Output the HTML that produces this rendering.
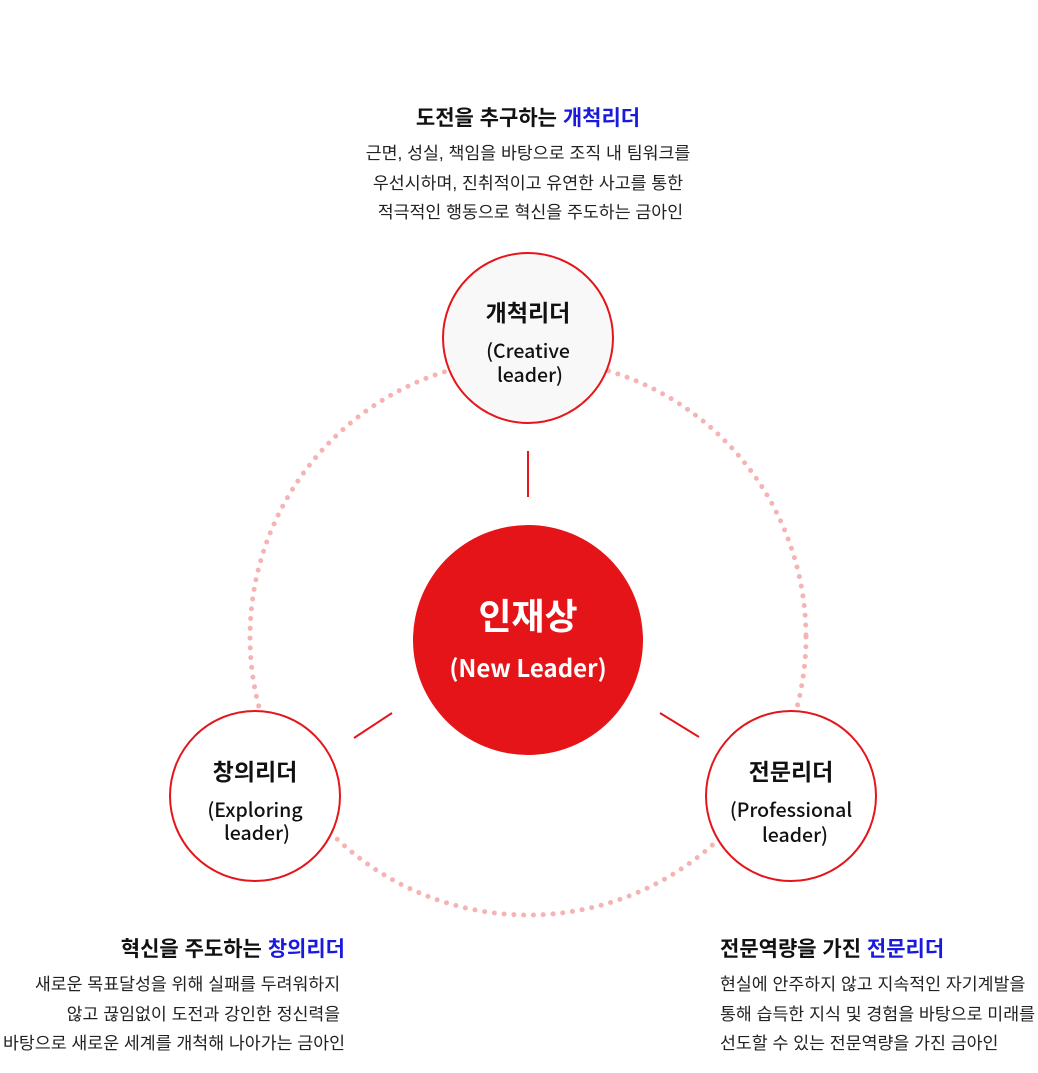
<!DOCTYPE html>
<html><head><meta charset="utf-8"><style>
body{margin:0;background:#fff;width:1038px;height:1073px;overflow:hidden;font-family:"Liberation Sans","Noto Sans CJK KR",sans-serif;}
svg{position:absolute;left:0;top:0}
.t{position:absolute;color:#222;font-size:17.3px;line-height:29.5px;white-space:nowrap}
.t h3{margin:0 0 7px 0;font-size:21px;line-height:26px;color:#111;font-weight:bold}
.t h3 span{color:#1a1adc}
</style></head><body>
<svg width="1038" height="1073">
<circle cx="528" cy="637" r="278" fill="none" stroke="#f5b3b3" stroke-width="5" stroke-linecap="round" stroke-dasharray="0 9.8"/>
<line x1="528" y1="451" x2="528" y2="497" stroke="#e4161b" stroke-width="2"/>
<line x1="354" y1="738" x2="392" y2="713" stroke="#e4161b" stroke-width="2"/>
<line x1="660" y1="713" x2="699" y2="737" stroke="#e4161b" stroke-width="2"/>
<circle cx="528" cy="338" r="85" fill="#f8f8f8" stroke="#e4161b" stroke-width="2"/>
<circle cx="255" cy="796" r="85" fill="#fff" stroke="#e4161b" stroke-width="2"/>
<circle cx="791" cy="796" r="85" fill="#fff" stroke="#e4161b" stroke-width="2"/>
<circle cx="528" cy="640" r="115" fill="#e51419"/>
<g font-family="Noto Sans CJK KR, Liberation Sans, sans-serif" text-anchor="middle">
<text x="528" y="321" font-size="23" font-weight="bold" fill="#111">개척리더</text>
<text x="528" y="358" font-size="19.5" font-weight="500" fill="#111">(Creative</text>
<text x="530" y="382" font-size="19.5" font-weight="500" fill="#111">leader)</text>
<text x="255" y="780" font-size="23" font-weight="bold" fill="#111">창의리더</text>
<text x="255" y="817" font-size="19.5" font-weight="500" fill="#111">(Exploring</text>
<text x="257" y="840" font-size="19.5" font-weight="500" fill="#111">leader)</text>
<text x="791" y="780" font-size="23" font-weight="bold" fill="#111">전문리더</text>
<text x="791" y="817" font-size="19.5" font-weight="500" fill="#111">(Professional</text>
<text x="795" y="842" font-size="19.5" font-weight="500" fill="#111">leader)</text>
<text x="528" y="629" font-size="36" font-weight="bold" fill="#fff">인재상</text>
<text x="528" y="677" font-size="24" font-weight="bold" fill="#fff">(New Leader)</text>
</g>
</svg>
<div class="t" style="left:278px;top:106px;width:500px;text-align:center">
<h3>도전을 추구하는 <span>개척리더</span></h3>
근면, 성실, 책임을 바탕으로 조직 내 팀워크를<br>우선시하며, 진취적이고 유연한 사고를 통한<br>&nbsp;적극적인 행동으로 혁신을 주도하는 금아인</div>
<div class="t" style="left:-155px;top:937px;width:500px;text-align:right">
<h3>혁신을 주도하는 <span>창의리더</span></h3>
새로운 목표달성을 위해 실패를 두려워하지&nbsp;<br>않고 끊임없이 도전과 강인한 정신력을&nbsp;<br>바탕으로 새로운 세계를 개척해 나아가는 금아인</div>
<div class="t" style="left:720px;top:937px;width:330px;text-align:left">
<h3>전문역량을 가진 <span>전문리더</span></h3>
현실에 안주하지 않고 지속적인 자기계발을<br>통해 습득한 지식 및 경험을 바탕으로 미래를<br>선도할 수 있는 전문역량을 가진 금아인</div>
</body></html>
